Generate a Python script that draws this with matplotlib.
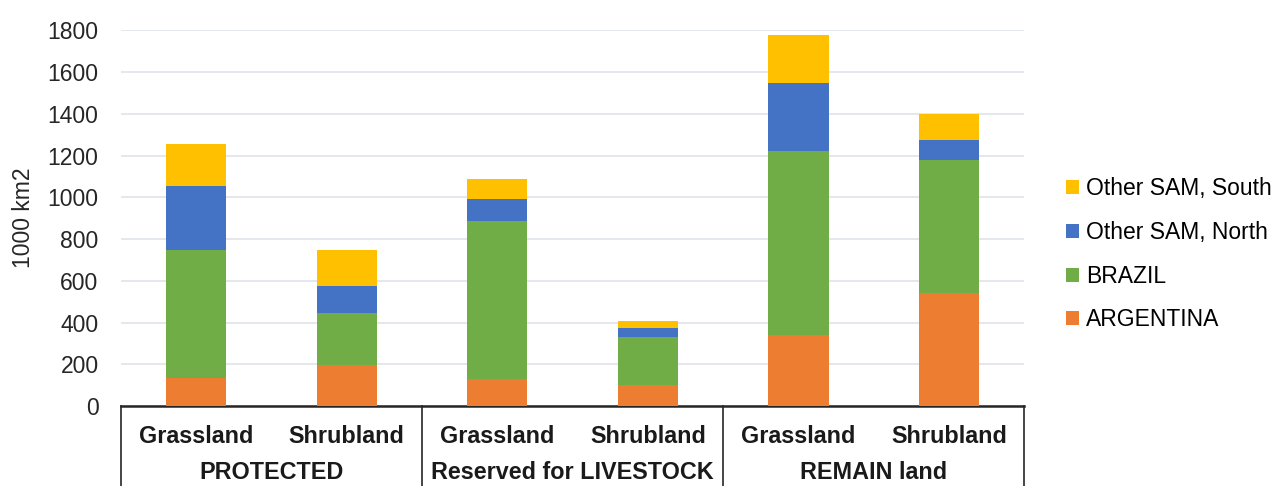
import matplotlib
matplotlib.use("Agg")
import matplotlib.pyplot as plt
import matplotlib.transforms as mtransforms
import numpy as np

plt.rcParams["font.family"] = ["Liberation Sans", "DejaVu Sans"]

# 土地类别（两级分类轴）
land_types = ["Grassland", "Shrubland", "Grassland", "Shrubland", "Grassland", "Shrubland"]
groups = ["PROTECTED", "Reserved for LIVESTOCK", "REMAIN land"]

# 各地区面积（1000 km2）
argentina = [135, 196, 128, 99, 339, 541]
brazil = [611, 248, 758, 230, 883, 636]
sam_north = [306, 132, 106, 45, 327, 97]
sam_south = [203, 170, 97, 35, 230, 125]

series = [
    ("ARGENTINA", argentina, "#ED7D31"),
    ("BRAZIL", brazil, "#70AD47"),
    ("Other SAM, North", sam_north, "#4472C4"),
    ("Other SAM, South", sam_south, "#FFC000"),
]

fig = plt.figure(figsize=(12.83, 4.86), dpi=100)
ax = fig.add_axes([0.0941, 0.1646, 0.7043, 0.7731])

x = np.arange(len(land_types))
bottom = np.zeros(len(land_types))
handles = []
for name, vals, color in series:
    b = ax.bar(x, vals, width=0.4, bottom=bottom, color=color, label=name, zorder=3)
    handles.append(b)
    bottom += np.array(vals)

ax.set_xlim(-0.5, len(land_types) - 0.5)
ax.set_ylim(0, 1800)
ax.set_yticks(np.arange(0, 1801, 200))
ax.grid(axis="y", color="#dfe3e8", linewidth=1.2, zorder=0)
ax.tick_params(axis="y", length=0, pad=16, labelsize=16.5, labelcolor="#262626")
ax.tick_params(axis="x", length=0, labelbottom=False)
for s in ["top", "right", "left"]:
    ax.spines[s].set_visible(False)
ax.spines["bottom"].set_color("#262626")
ax.spines["bottom"].set_linewidth(1.8)
ax.set_ylabel("1000 km2", fontsize=16.5, color="#262626", labelpad=9)

# 两级分类标签与分隔线
trans = mtransforms.blended_transform_factory(ax.transData, ax.transAxes)
for i, lt in enumerate(land_types):
    ax.text(i, -0.08, lt, transform=trans, ha="center", va="center",
            fontsize=16.8, fontweight="bold", color="#1a1a1a")
for g, name in enumerate(groups):
    ax.text(2 * g + 0.5, -0.177, name, transform=trans, ha="center", va="center",
            fontsize=16.8, fontweight="bold", color="#1a1a1a")
for xb in [-0.5, 1.5, 3.5, 5.5]:
    ax.plot([xb, xb], [0, -0.3], transform=trans, color="#262626",
            linewidth=1.2, clip_on=False)

leg = fig.legend(handles[::-1], [s[0] for s in series][::-1],
                 loc="center left", bbox_to_anchor=(0.831, 0.4765),
                 frameon=False, fontsize=16.5, handlelength=0.55, handleheight=0.55,
                 handletextpad=0.3, labelspacing=0.9, borderpad=0, borderaxespad=0)

fig.savefig("out.png", dpi=100)
